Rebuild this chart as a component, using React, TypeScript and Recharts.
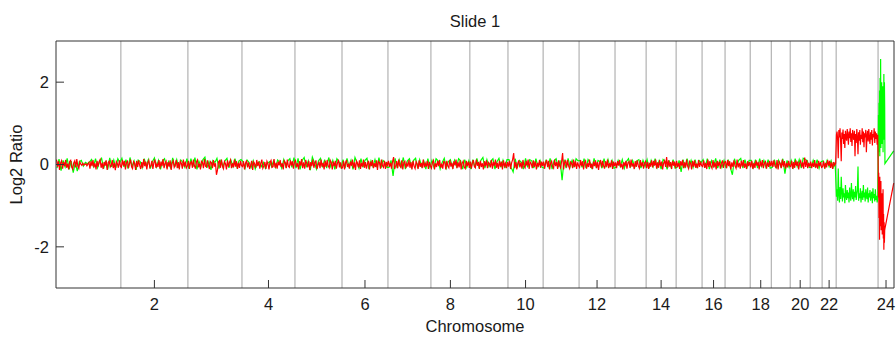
import { LineChart, Line, XAxis, YAxis, ReferenceLine, Label } from 'recharts'

// chromosome sizes in Mb (1..22, X, Y)
const chromSizes = [240, 248, 200, 196, 174, 170, 159, 144, 141, 130, 133, 133, 115, 111, 96, 85, 93, 78, 70, 74, 44, 52, 155, 59]
const xTickChromosomes = [2, 4, 6, 8, 10, 12, 14, 16, 18, 20, 22, 24]
const yTicks = [-2, 0, 2]

// log2 ratio x 100, one list per autosome, probes evenly spread along the chromosome
const redAutosomes = [
  [12, -5, 8, -13, 3, 9, -10, 6, -4, 11, -8, 2, -12, 7, 10, -6, -11, 4, 9, -7, 13, -3, -9, 6, 1, -2, 3, -1, 0, 2, -3, 1, 5, -10, 8, -4, 11, -7, 3, -12, 9, -5, 7, 12, -8, 4, -11, 6, -3, 10, -13, 5, 8, -6, -2, 11, -9, 4, -14, 7, 2, -8, 10, -4],
  [-7, 11, -3, 9, -12, 5, 8, -9, 2, 12, -5, -10, 7, 3, -13, 9, -6, 10, -2, -11, 6, -8, 13, -4, 7, -12, 4, 10, -7, -3, 9, -11, 5, 12, -8, 2, -6, 11, -10, 7, -4, 13, -9, 3, 8, -12, 6, -5, 10, -13, 4, 9, -7, -2, 11, -9, 6, -12, 8, 3, -10, 12, -5, 7, -8, -3],
  [9, -11, 4, 7, -8, 12, -3, -10, 6, 11, -7, 2, -12, 8, 5, -9, 13, -4, -6, 10, -2, -11, 7, 4, -9, 11, -5, 3, -25, -14, 6, 9, -8, 12, -4, -10, 7, 2, -12, 10, -6, 5, 11, -9, 3, -7, 12, -5, 8, -11, 4, -8, 9, -3],
  [-5, 8, -12, 3, 10, -7, 5, -11, -2, 9, -13, 6, 1, -8, 11, -4, 7, -10, 3, 12, -9, -3, 6, -11, 8, 2, -12, 5, 10, -7, -5, 13, -8, 4, -10, 7, -2, 11, -6, 3, -12, 9, 5, -9, 12, -4, -7, 10, -3, 8, -10, 6],
  [10, -6, 3, -12, 8, -3, 13, -9, 5, -10, 11, 2, -7, 9, -13, 6, -4, 12, -8, 3, 10, -11, -2, 7, -9, 12, -5, 4, -12, 9, -6, 11, -3, -8, 10, 5, -12, 7, -4, 9, -10, 3, 12, -7, 5, -9],
  [-8, 9, -12, 4, 11, -6, 2, -10, 7, -3, 12, -9, 5, -13, 8, 3, -7, 10, -11, 4, -5, 12, -8, 6, -10, 2, 9, -12, 7, -4, 11, -9, 3, -6, 10, -13, 8, 5, -10, 12, -3, -7, 9, -11, 6, -2],
  [9, -6, 4, -10, 7, 18, -11, -4, 8, -9, 12, -3, -7, 10, -12, 5, 8, -9, 3, -5, 11, -8, 6, -12, 9, -4, -10, 7, 2, -11, 10, -6, 4, -9, 12, -7, 3, -5, 9, -11, 6, -3],
  [-9, 5, 10, -12, 3, -6, 9, -4, 11, -8, 2, -10, 7, 6, -12, 9, -3, -8, 11, -5, 4, -11, 8, -2, 12, -9, 5, -7, 10, -12, 3, 8, -6, -10, 9, -4, 7, -8],
  [7, -10, 4, 11, -5, -8, 12, -3, 6, -11, 9, -6, 3, -12, 8, -4, 10, -9, 5, 2, -7, 11, -10, 6, -3, 12, -8, 4, -11, 9, -5, 7, -12, 10, -4, 3, -9, 6],
  [-5, 9, -11, 4, 12, 28, -9, 6, -12, 3, 10, -7, 5, -10, 11, -4, -8, 9, -3, 12, -11, 6, 2, -9, 10, -6, 8, -12, 4, -5, 11, -8, 7, -3],
  [7, -10, 4, 11, -6, 9, -12, 3, 8, -5, -9, 12, -4, 6, -11, 10, -3, -8, 7, 28, -12, 5, 9, -7, 11, -4, -10, 6, 3, -9, 12, -6, 8, -11, 5, -3],
  [-7, 11, -4, 8, -12, 5, 9, -10, 3, -6, 12, -8, 2, -11, 7, -4, 10, -9, 6, -13, 4, 11, -7, 9, -3, -10, 8, -5, 12, -9, 3, -6, 10, -11, 7, -4],
  [5, -9, 8, -3, 11, -7, 2, -12, 6, -4, 9, -10, 4, 7, -8, 12, -5, 3, -11, 8, -6, 10, -3, -9, 11, -5, 6, -10, 4, 8],
  [-9, 6, -11, 4, -5, 10, -7, 9, -3, 12, -10, 5, -8, 11, -4, 7, -12, 3, 9, -6, 18, -8, 10, -5, 6, -11, 9, -3, 7, -9],
  [9, -6, 4, -11, 8, -3, 11, -9, 5, -7, 12, -4, -10, 7, 3, -12, 9, -5, 10, -8, 2, -9, 11, -6, 7, -3],
  [-5, 10, -8, 4, -11, 12, -6, 8, -3, -9, 11, -7, 5, -12, 9, -4, 7, -10, 3, 10, -8, 5],
  [7, -9, 11, -4, 8, -12, 5, -6, 10, -3, -9, 12, -7, 4, -10, 9, -5, 11, -8, 3, -11, 8, -4, 6],
  [-7, 9, -11, 4, -8, 10, -3, 6, -12, 8, -5, 11, -9, 3, 7, -10, 5, -6, 9, -4],
  [9, -6, 10, -4, -8, 11, -12, 7, 3, -9, 12, -5, 8, -10, 4, -7, 9, -3],
  [-5, 9, -11, 6, -8, 10, -3, 7, -12, 4, 9, -7, 5, -10, 17, -6, 11, -9, 4, -5],
  [7, -9, 4, -6, 11, -8, 3, -10, 9, -4, 6, -7],
  [-5, 8, -10, 4, -7, 11, -3, 9, -8, 5, -11, 6, -2, 3],
]

const greenAutosomes = [
  [-9, 13, -15, 10, -6, 15, -12, 8, -20, 5, -16, 7, 10, -4, 5, 2, 6, 12, -5, 14, -8, 7, 15, -10, 9, -12, 16, -6, 11, -8, 14, 5],
  [15, -6, 12, -10, 17, -5, 9, -13, 11, 7, -8, 14, -4, 12, -10, 7, 16, -6, 10, -12, 9, 14, -5, 7, -10, 16, -6, 12, -8, 11, 5, -7, 14],
  [-10, 14, -6, 17, -12, 8, -5, 12, 18, -8, 7, -13, 10, 5, 15, -10, 12, -6, 9, 15, -8, 10, -5, 14, -6, 9, 12],
  [7, -9, 11, 5, -7, 9, -11, 3, 7, -5, 5, -9, 3, 7, -5, 9, -7, 11, 5, -9, 12, -5, 9, 14, -7, 17],
  [-9, 15, -12, 10, 17, -7, 9, -14, 18, 5, -11, 9, 15, -7, 12, -9, 17, -5, 10, -12, 14, 7, -7],
  [12, -9, 15, -5, 10, -12, 17, 5, -9, 14, -7, 10, 15, -11, 9, -5, 12, -7, 17, -9, 10, 5, -7],
  [-7, 10, -28, 15, -9, 12, -5, 17, -11, 9, 14, -7, 10, 15, -9, 12, -5, 9, -11, 14, -7],
  [10, -7, 14, 9, -11, 5, 15, -9, 7, 12, -7, 10, -5, 14, 9, -11, 12, -7, 9],
  [-11, 12, -7, 15, -5, 10, 17, -9, 12, -5, 9, 14, -11, 7, 15, -7, 10, -9, 12],
  [12, -7, -18, 14, -9, 10, 5, -11, 15, -7, 12, 9, -9, 14, -5, 10, -7],
  [-9, 12, -5, 15, -11, 9, 14, -7, 10, -38, 12, -9, 15, -5, 10, -7, 14, 9],
  [10, -7, 14, -9, 12, 5, -11, 15, -5, 10, 7, -9, 14, -7, 12, -5, 10, -9],
  [-7, 10, -5, 12, -9, 7, 14, -5, 10, -7, 9, 12, -9, 10, -5],
  [12, -9, 10, -5, 14, -7, 9, -11, 12, 7, -12, 10, -7, 12, -9],
  [-7, 10, -18, 12, -9, 14, -5, 10, -7, 12, -9, 10, 5],
  [12, -7, 14, -11, 9, -5, 15, -9, 12, -7, 10],
  [-9, 12, -7, -25, 14, -5, 10, 15, -9, 12, -7, 10],
  [10, -7, 12, -9, 14, -5, 10, -7, 12, -9],
  [-7, 12, -9, 10, -5, 14, -22, 10, -7],
  [10, -7, 14, -5, 12, -9, 15, 12, 10, -7],
  [-7, 10, -5, 12, -9, 7],
  [9, -7, 10, -5, 9, -7, 5],
]

// chromosome X (evenly spread) and Y (probe positions in Mb)
const redX = [
  72, 80, 60, 15, 84, 66, 88, 55, 8, 78, 62, 85, 50, 74, 40, 82, 66, 58, 86, 70,
  48, 80, 64, 88, 55, 76, 45, 84, 68, 60, 82, 20, 74, 52, 86, 66, 25, 78, 58, 84,
  48, 72, 62, 88, 54, 80, 42, 76, 66, 84, 30, 70, 82, 56, 86, 64, 50, 78, 60, 84,
  46, 74, 66, 88, 52, 80, 62, 76, 48, 72,
]
const greenX = [
  -78, -60, -88, -10, -72, -92, -55, -84, -30, -66, -90, -58, -80, -70, -94, -50, -76, -86, -62, -82,
  -68, -92, -56, -78, -88, -45, -74, -84, -60, -90, -66, -80, -52, -86, -72, -62, -5, -88, -70, -82,
  -58, -92, -74, -64, -86, -50, -80, -68, -90, -60, -76, -84, -56, -92, -70, -80, -62, -88, -74, -66,
  -94, -58, -82, -72, -90, -60, -86, -76, -92, -80,
]
const yProbePositions = [
  0.5, 1.5, 2.5, 3.5, 4.5, 5.5, 6.5, 7.5, 8.5, 9.5, 10.5, 11.5, 12.5, 13.5, 14.5, 15.5, 16.5, 17.5, 18.5, 19.5,
  20.5, 21.5, 22.5, 23.5, 24.5, 25.5, 58,
]
const redY = [
  -5, -80, -20, -130, -60, -183, -30, -150, -90, -120, -40, -160, -100, -140, -70, -170, -110, -150, -60, -180,
  -120, -207, -140, -190, -160, -156, -45,
]
const greenY = [
  10, 120, 30, 150, 60, 180, 20, 210, 80, 256, 40, 160, 100, 200, 50, 140, 90, 190, 30, 170,
  110, 220, 60, 200, 140, 2, 33,
]

const chromStarts = chromSizes.map((_, i) => chromSizes.slice(0, i).reduce((a, b) => a + b, 0))
const genomeLength = chromSizes.reduce((a, b) => a + b, 0)
const boundaries = chromStarts.slice(1)
const tickPositions = xTickChromosomes.map((c) => chromStarts[c - 1] + chromSizes[c - 1] / 2)

function spread(chrom: number, values: number[]) {
  const size = chromSizes[chrom]
  return values.map((v, i) => ({ pos: chromStarts[chrom] + ((i + 0.5) * size) / values.length, log2: v / 100 }))
}

function buildSeries(autosomes: number[][], chrX: number[], chrY: number[]) {
  const points = autosomes.flatMap((vals, c) => spread(c, vals))
  points.push(...spread(22, chrX))
  points.push(...chrY.map((v, i) => ({ pos: chromStarts[23] + yProbePositions[i], log2: v / 100 })))
  return points
}

const greenPoints = buildSeries(greenAutosomes, greenX, greenY)
const redPoints = buildSeries(redAutosomes, redX, redY)

const axisColor = '#333'
const textColor = '#1a1a1a'
const fontSize = 16.5

export default function App() {
  return (
    <div style={{ position: 'absolute', left: 0, top: 0, fontFamily: '"Liberation Sans", Arial, sans-serif', background: '#fff' }}>
      <LineChart width={896} height={337} margin={{ top: 40, right: 0, bottom: 0, left: 0 }}>
        <XAxis
          xAxisId="bottom"
          type="number"
          dataKey="pos"
          domain={[0, genomeLength]}
          ticks={tickPositions}
          tickFormatter={(v: number) => String(xTickChromosomes[tickPositions.indexOf(v)])}
          height={49}
          tickSize={-8}
          tickMargin={18}
          stroke={axisColor}
          tick={{ fill: textColor, fontSize }}
          interval={0}
        >
          <Label value="Chromosome" position="insideBottom" offset={5} fill={textColor} fontSize={fontSize} />
        </XAxis>
        <XAxis
          xAxisId="top"
          orientation="top"
          type="number"
          dataKey="pos"
          domain={[0, genomeLength]}
          ticks={tickPositions}
          height={1}
          tickSize={-8}
          tick={false}
          stroke={axisColor}
          interval={0}
        >
          <Label value="Slide 1" position="top" offset={13} fill={textColor} fontSize={fontSize} />
        </XAxis>
        <YAxis
          yAxisId="left"
          type="number"
          domain={[-3, 3]}
          ticks={yTicks}
          width={56}
          tickSize={-8}
          tickMargin={15}
          stroke={axisColor}
          tick={{ fill: textColor, fontSize }}
          interval={0}
        >
          <Label
            value="Log2 Ratio"
            angle={-90}
            position="insideLeft"
            offset={16}
            fill={textColor}
            fontSize={fontSize}
            style={{ textAnchor: 'middle' }}
          />
        </YAxis>
        <YAxis
          yAxisId="right"
          orientation="right"
          type="number"
          domain={[-3, 3]}
          ticks={yTicks}
          width={2}
          tickSize={-8}
          tick={false}
          stroke={axisColor}
          interval={0}
        />
        {boundaries.map((b) => (
          <ReferenceLine key={b} xAxisId="bottom" yAxisId="left" x={b} stroke="#a3a3a3" strokeWidth={1} />
        ))}
        <Line
          xAxisId="bottom"
          yAxisId="left"
          data={greenPoints}
          dataKey="log2"
          type="linear"
          stroke="#00ff00"
          strokeWidth={1.2}
          dot={false}
          isAnimationActive={false}
        />
        <Line
          xAxisId="top"
          yAxisId="right"
          data={redPoints}
          dataKey="log2"
          type="linear"
          stroke="#ff0000"
          strokeWidth={1.2}
          dot={false}
          isAnimationActive={false}
        />
      </LineChart>
    </div>
  )
}
